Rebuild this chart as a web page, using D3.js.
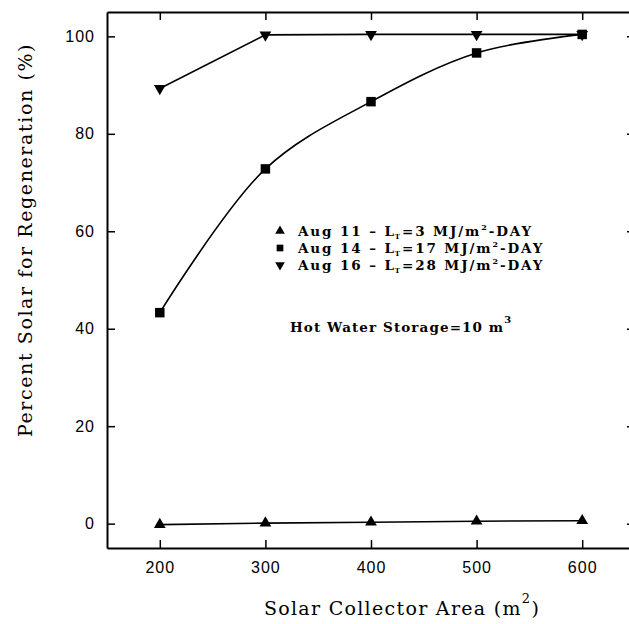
<!DOCTYPE html>
<html>
<head>
<meta charset="utf-8">
<script src="https://cdn.jsdelivr.net/npm/d3@7"></script>
<style>
  body { margin: 0; background: #fff; }
  .tick text { font-family: "Liberation Sans", Arial, sans-serif; font-size: 16px; letter-spacing: 1px; fill: #000; }
  .title { font-family: "DejaVu Serif", "Liberation Serif", serif; fill: #000; }
  .legend text { font-family: "DejaVu Serif", "Liberation Serif", serif; font-weight: bold; font-size: 13.5px; fill: #000; }
</style>
</head>
<body>
<svg width="629" height="624"></svg>
<script>
(function(d3) {
    'use strict';

    // collector area, m2
    var areas = [200, 300, 400, 500, 600];
    // percent solar for regeneration
    var aug11 = [-0.2, 0.1, 0.3, 0.5, 0.6],
        aug14 = [43.3, 72.8, 86.6, 96.6, 100.4],
        aug16 = [89.3, 100.3, 100.4, 100.4, 100.4];
    var xTicks = [200, 300, 400, 500, 600],
        yTicks = [0, 20, 40, 60, 80, 100];

    var series = [
        { name: 'Aug 11', lt: '3', values: aug11, symbol: d3.symbolTriangle, rot: 0, curve: d3.curveLinear },
        { name: 'Aug 14', lt: '17', values: aug14, symbol: d3.symbolSquare, rot: 0, curve: d3.curveCatmullRom.alpha(0.5) },
        { name: 'Aug 16', lt: '28', values: aug16, symbol: d3.symbolTriangle, rot: 180, curve: d3.curveLinear }
    ];

    var svg = d3.select('svg');

    var x = d3.scaleLinear().domain([150, 650]).range([107, 635]),
        y = d3.scaleLinear().domain([-5, 105]).range([548, 12]);

    function styleAxis(g) {
        g.select('.domain').attr('stroke', '#000').attr('stroke-width', 2);
        g.selectAll('.tick line').attr('stroke', '#000').attr('stroke-width', 1.5);
    }

    svg.append('g')
        .attr('transform', 'translate(0,' + y.range()[0] + ')')
        .call(d3.axisBottom(x).tickValues(xTicks).tickSize(-8).tickSizeOuter(0).tickPadding(14))
        .call(styleAxis);

    svg.append('g')
        .attr('transform', 'translate(0,' + y.range()[1] + ')')
        .call(d3.axisTop(x).tickValues(xTicks).tickSize(-8).tickSizeOuter(0).tickFormat(''))
        .call(styleAxis);

    svg.append('g')
        .attr('transform', 'translate(' + x.range()[0] + ',0)')
        .call(d3.axisLeft(y).tickValues(yTicks).tickSize(-8).tickSizeOuter(0).tickPadding(12))
        .call(styleAxis);

    svg.append('g')
        .attr('transform', 'translate(' + x.range()[1] + ',0)')
        .call(d3.axisRight(y).tickValues(yTicks).tickSize(-8).tickSizeOuter(0).tickFormat(''))
        .call(styleAxis);

    // series lines + markers
    series.forEach(function (s) {
        var pts = areas.map(function (a, i) { return [a, s.values[i]]; });
        var line = d3.line()
            .x(function (d) { return x(d[0]); })
            .y(function (d) { return y(d[1]); })
            .curve(s.curve);

        svg.append('path')
            .datum(pts)
            .attr('d', line)
            .attr('fill', 'none')
            .attr('stroke', '#000')
            .attr('stroke-width', 1.6);

        svg.append('g').selectAll('path')
            .data(pts)
            .enter()
            .append('path')
            .attr('d', d3.symbol().type(s.symbol).size(s.symbol === d3.symbolSquare ? 90 : 60))
            .attr('transform', function (d) {
                return 'translate(' + x(d[0]) + ',' + y(d[1]) + ') rotate(' + s.rot + ')';
            })
            .attr('fill', '#000');
    });

    // legend
    var legend = svg.append('g').attr('class', 'legend');
    var rows = legend.selectAll('g')
        .data(series)
        .enter()
        .append('g')
        .attr('transform', function (d, i) { return 'translate(280,' + (231 + i * 17) + ')'; });

    rows.append('path')
        .attr('d', function (d) { return d3.symbol().type(d.symbol).size(d.symbol === d3.symbolSquare ? 45 : 40)(); })
        .attr('transform', function (d) { return 'rotate(' + d.rot + ')'; })
        .attr('fill', '#000');

    var lt = rows.append('text')
        .attr('x', 18)
        .attr('y', 4.5)
        .style('letter-spacing', '1.9px');
    lt.append('tspan').text(function (d) { return d.name + ' \u2013 L'; });
    lt.append('tspan').attr('dx', -1).attr('dy', 3).style('font-size', '7px').text('T');
    lt.append('tspan').attr('dy', -3).text(function (d) { return '=' + d.lt + ' MJ/m'; });
    lt.append('tspan').attr('dy', -6).style('font-size', '8px').text('2');
    lt.append('tspan').attr('dy', 6).text('-DAY');

    var hw = legend.append('text')
        .attr('x', 290)
        .attr('y', 332)
        .style('font-size', '13.5px')
        .style('letter-spacing', '1.1px');
    hw.append('tspan').text('Hot Water Storage=10 m');
    hw.append('tspan').attr('dy', -9).style('font-size', '10px').text('3');

    // axis titles
    var xt = svg.append('text')
        .attr('class', 'title')
        .attr('x', 402)
        .attr('y', 615)
        .attr('text-anchor', 'middle')
        .style('font-size', '19px')
        .style('letter-spacing', '1.3px');
    xt.append('tspan').text('Solar Collector Area (m');
    xt.append('tspan').attr('dy', -12).style('font-size', '13px').text('2');
    xt.append('tspan').attr('dy', 12).text(')');

    svg.append('text')
        .attr('class', 'title')
        .attr('transform', 'translate(32,240) rotate(-90)')
        .attr('text-anchor', 'middle')
        .style('font-size', '19px')
        .style('letter-spacing', '1.6px')
        .text('Percent Solar for Regeneration (%)');
})(window.d3);
</script>
</body>
</html>
